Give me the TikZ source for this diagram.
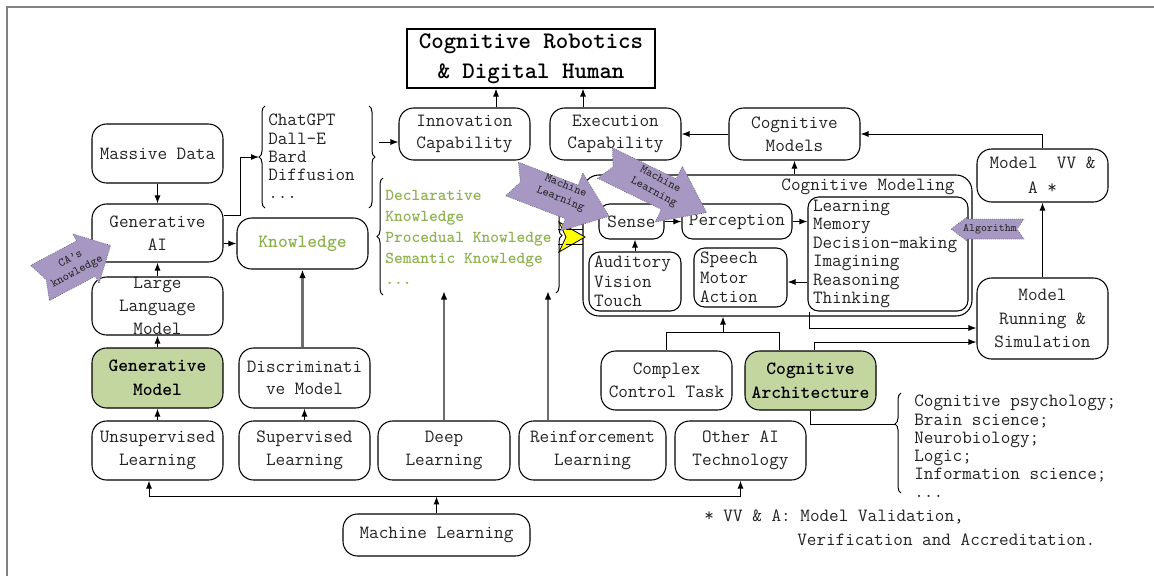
\documentclass[tikz,border=0pt]{standalone}
\usetikzlibrary{arrows.meta,calc,decorations.pathreplacing}
\definecolor{kgreen}{RGB}{143,178,80}
\definecolor{gfill}{RGB}{196,214,160}
\definecolor{purp}{RGB}{166,152,194}
\definecolor{purpline}{RGB}{100,90,120}
\definecolor{cgray}{RGB}{110,110,110}
\definecolor{framegray}{RGB}{130,130,130}
\definecolor{txt}{RGB}{35,35,35}
\definecolor{ylw}{RGB}{255,255,0}
\newcommand{\fsN}{\fontsize{14}{17}\selectfont}
\newcommand{\blockarr}[8]{%
  \begin{scope}[shift={(#1,#2)},rotate=#3]
    \draw[parrow] (0,-#5) -- ({#4-#7},-#5) -- ({#4-#7},-#6) -- (#4,0) -- ({#4-#7},#6) -- ({#4-#7},#5) -- (0,#5) -- (#8,0) -- cycle;
  \end{scope}}
\tikzset{
  every node/.style={font=\ttfamily\fsN, text=txt},
  box/.style={draw, rounded corners=11pt, inner sep=0pt, align=center, line width=0.8pt},
  sz/.style 2 args={minimum width=#1*0.75pt, minimum height=#2*0.75pt},
  arr/.style={-{Latex[length=6pt,width=4.5pt]}, line width=0.75pt},
  garr/.style={-{Latex[length=6.5pt,width=5pt,color=black]}, line width=1.6pt, cgray},
  brc/.style={decorate, decoration={brace, amplitude=4.5pt}, line width=0.75pt},
  parrow/.style={fill=purp, draw=purpline, densely dotted, line width=0.5pt},
  ptext/.style={font=\ttfamily\fontsize{9}{10.5}\selectfont, text=black!85, align=center, inner sep=0pt},
  bld/.style={font=\ttfamily\bfseries\fontsize{14}{18}\selectfont, text=black},
  lst/.style={anchor=west, align=left, inner sep=0pt}
}
\begin{document}
\begin{tikzpicture}[x=0.75pt,y=-0.75pt]
\useasboundingbox (0,0) rectangle (1154,576);
% frame
\draw[framegray, line width=1.1pt] (7,576) -- (7,7) -- (1154,7);

% title
\node[draw, line width=0.9pt, inner sep=0pt, align=center, sz={248}{59},
      font=\ttfamily\bfseries\fontsize{17.8}{22.5}\selectfont, text=black] (title) at (531,58.5)
      {Cognitive Robotics\\\& Digital Human};

% left column
\node[box, sz={131}{59}] (massive) at (157.5,153.5) {Massive Data};
\node[box, sz={131}{58}] (genai) at (157.5,233) {Generative\\AI};
\node[box, sz={131}{58}] (llm) at (157.5,306) {Large\\Language\\Model};
\node[box, sz={131}{60}, fill=gfill, bld] (genmodel) at (157.5,378) {Generative\\Model};
\node[box, sz={131}{59}] (unsup) at (157.5,450.5) {Unsupervised\\Learning};
\node[box, sz={131}{60}] (disc) at (304.5,378) {Discriminati\\ve Model};
\node[box, sz={131}{59}] (sup) at (304.5,450.5) {Supervised\\Learning};
\node[box, sz={131}{51}, font=\ttfamily\bfseries\fontsize{14}{17}\selectfont, text=kgreen] (knowledge) at (302.5,243.5) {Knowledge};

% bottom row
\node[box, sz={132}{59}] (deep) at (444,450.5) {Deep\\Learning};
\node[box, sz={147}{59}] (reinf) at (592.5,450.5) {Reinforcement\\Learning};
\node[box, sz={131}{59}] (otherai) at (740.5,450.5) {Other AI\\Technology};
\node[box, sz={187}{42}] (mlbox) at (436.5,535) {Machine Learning};
\node[box, sz={131}{59}] (complex) at (666.5,380.5) {Complex\\Control Task};
\node[box, sz={131}{59}, fill=gfill, bld] (cogarch) at (810.5,380.5) {Cognitive\\Architecture};

% top row
\node[box, sz={131}{52}] (innovation) at (464.5,134) {Innovation\\Capability};
\node[box, sz={131}{52}] (execution) at (615.5,134) {Execution\\Capability};
\node[box, sz={131}{52}] (cogmodels) at (794.5,134) {Cognitive\\Models};
\node[box, sz={131}{53}, font=\ttfamily\fontsize{14}{19}\selectfont] (vva) at (1042.5,175.5) {Model~~VV \&\\A *};
\node[box, sz={131}{81}, font=\ttfamily\fontsize{14}{17.6}\selectfont] (running) at (1042.5,318.5) {Model\\Running \&\\Simulation};

% cognitive modeling
\node[draw, rounded corners=12pt, line width=0.8pt, sz={389}{141}] (cogmod) at (777.5,245.5) {};
\node[inner sep=0pt] (cmlabel) at (868,187) {Cognitive Modeling};
\node[box, rounded corners=8pt, sz={65}{35}] (sense) at (631.5,221.5) {Sense};
\node[box, rounded corners=8pt, sz={110}{35}] (perception) at (737,221.5) {Perception};
\node[box, rounded corners=8pt, sz={160}{114}, align=left, text width=112.5pt,
      font=\ttfamily\fontsize{14}{13.8}\selectfont] (learning) at (888,254)
      {Learning\\Memory\\Decision-making\\Imagining\\Reasoning\\Thinking};
\node[box, rounded corners=8pt, sz={92}{59}, align=left, text width=61.5pt,
      font=\ttfamily\fontsize{14}{14.6}\selectfont] (auditory) at (635,281.5)
      {Auditory\\Vision\\Touch};
\node[box, rounded corners=8pt, sz={93}{59}, align=left, text width=60.75pt,
      font=\ttfamily\fontsize{14}{14.6}\selectfont] (speech) at (740.5,277.5)
      {Speech\\Motor\\Action};

% lists
\node[lst, font=\ttfamily\fontsize{14}{13.7}\selectfont] (chatlist) at (268,156.5)
      {ChatGPT\\Dall-E\\Bard\\Diffusion\\...};
\node[lst, font=\ttfamily\bfseries\fontsize{12.5}{15.75}\selectfont, text=kgreen] (klist) at (385,237.5)
      {Declarative\\Knowledge\\Procedual Knowledge\\Semantic Knowledge\\...};
\node[lst, font=\ttfamily\fontsize{14}{13.65}\selectfont] (psylist) at (914,446.5)
      {Cognitive psychology;\\Brain science;\\Neurobiology;\\Logic;\\Information science;\\...};
\node[anchor=west, inner sep=0pt] (fn1) at (704,517) {* VV \& A: Model Validation,};
\node[anchor=west, inner sep=0pt] (fn2) at (797,540) {Verification and Accreditation.};

% braces
\draw[brc] (265,208) -- (265,106);
\draw[brc] (369,106) -- (369,208);
\draw[brc] (383,295) -- (383,178);
\draw[brc] (556,178) -- (556,293);
\draw[decorate, decoration={brace, amplitude=4.5pt, aspect=0.69}, line width=0.75pt] (901,493) -- (901,393);

% helper coordinates
\coordinate (chatL) at (259,157);
\coordinate (chatR) at (379,142);
\coordinate (kb) at (0,291);
\coordinate (psytip) at (895,424);
\path ($(innovation.north)+(31.5,0)$) coordinate (innTop);
\path ($(execution.north)+(-32.5,0)$) coordinate (exeTop);
\path ($(genai.east)+(0,-18)$) coordinate (gaOut);
\path ($(reinf.north)+(-44.5,0)$) coordinate (rlTop);
\path ($(cogarch.north)+(-31.5,0)$) coordinate (caTop);
\path (complex.north) ++(0,-18) coordinate (cc1);
\path (cc1) ++(56.5,0) coordinate (junc);
\path ($(learning.south west)+(2,0)$) coordinate (lrn);
\path ($(cogarch.north)+(3.5,0)$) coordinate (caTop2);
\path (mlbox.north) ++(0,-17) coordinate (bus);
\path ($(unsup.south)+(-8.5,0)$) coordinate (unsBot);
\path ($(speech.east)+(0,4.5)$) coordinate (spIn);

% connectors
\draw[arr] (massive) -- (genai);
\draw[arr] (llm) -- (genai);
\draw[arr] (genmodel) -- (llm);
\draw[arr] (unsup) -- (genmodel);
\draw[arr] (sup) -- (disc);
\draw[arr] (genai.east |- knowledge.west) -- (knowledge.west);
\draw[arr] (gaOut) -- ++(17,0) |- (chatL);
\draw[arr] (chatR) -- (chatR -| innovation.west);
\draw[arr] (innTop) -- (innTop |- title.south);
\draw[arr] (exeTop) -- (exeTop |- title.south);
\draw[arr] (cogmodels.west) -- (execution.east);
\draw[arr] (vva.north) |- (cogmodels.east);
\draw[arr] (running.north) -- (vva.south);
\draw[arr] (cogmod.north -| cogmodels.south) -- (cogmodels.south);
\draw[arr] (sense.east) -- (perception.west);
\draw[arr] (perception.east) -- (perception.east -| learning.west);
\draw[arr] (learning.west |- spIn) -- (spIn);
\draw[arr] (auditory.north) -- (auditory.north |- sense.south);
\draw[line width=0.75pt] (complex.north) -- (cc1) -- (cc1 -| caTop) -- (caTop);
\draw[arr] (junc) -- (junc |- cogmod.south);
\draw[arr] (lrn) |- ($(running.west)+(0,9.5)$);
\draw[arr] (caTop2) |- ($(running.west)+(0,23.5)$);
\draw[line width=0.75pt] (cogarch.south) |- (psytip);
\draw[arr] (mlbox.north) -- (bus);
\draw[arr] (bus) -| (unsBot);
\draw[arr] (bus) -| (otherai.south);
\draw[garr] (knowledge.south |- disc.north) -- (knowledge.south);
\draw[garr] (deep.north) -- (deep.north |- kb);
\draw[garr] (rlTop) -- (rlTop |- kb);

% yellow chevron
\draw[line width=0.75pt] (558,229) -- (583,229) (558,244) -- (583,244);
\draw[fill=ylw, line width=0.6pt] (559,222) -- (585,237) -- (559,252) -- (566,237) -- cycle;
\draw[line width=0.75pt] (566,229) -- (583,229) (566,244) -- (583,244);

% purple arrows
\blockarr{512}{179}{-21}{104}{18}{31}{40}{9}
\node[ptext, rotate=-22] (ml1txt) at (563,193) {Machine\\Learning};
\blockarr{605}{163}{-26}{113}{17}{31}{42}{9}
\node[ptext, rotate=-28] (ml2txt) at (657,186) {Machine\\Learning};
\blockarr{40}{283}{28}{80}{20}{28}{28}{7}
\node[ptext, rotate=28] (catxt) at (74,266) {CA’s\\knowledge};
\blockarr{1024}{229}{180}{73}{10}{12}{16}{7}
\node[ptext, font=\ttfamily\fontsize{8.5}{9}\selectfont] (algtxt) at (990,229) {Algorithm};
\end{tikzpicture}
\end{document}
